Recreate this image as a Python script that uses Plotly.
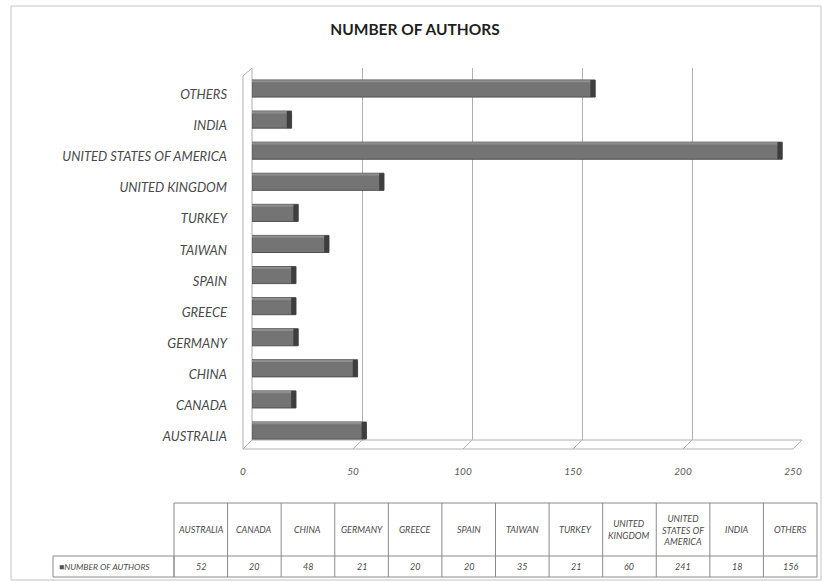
import plotly.graph_objects as go

# ---------------- data ----------------
categories = ["AUSTRALIA", "CANADA", "CHINA", "GERMANY", "GREECE", "SPAIN",
              "TAIWAN", "TURKEY", "UNITED KINGDOM", "UNITED STATES OF AMERICA",
              "INDIA", "OTHERS"]
values = [52, 20, 48, 21, 20, 20, 35, 21, 60, 241, 18, 156]
table_headers = ["AUSTRALIA", "CANADA", "CHINA", "GERMANY", "GREECE", "SPAIN",
                 "TAIWAN", "TURKEY", "UNITED<br>KINGDOM",
                 "UNITED<br>STATES OF<br>AMERICA", "INDIA", "OTHERS"]
x_ticks = [0, 50, 100, 150, 200, 250]
series_name = "NUMBER OF AUTHORS"
title_text = "NUMBER OF AUTHORS"

# ---------------- geometry helpers (pixels -> paper) ----------------
W, H = 823, 582
def X(p):
    return p / W
def Y(p):
    return 1 - p / H

FONT = "Lato"
TXT = "#4a4a4a"
GRID = "#b0b0b0"
n = len(categories)

fig = go.Figure()
# front face of bars
fig.add_trace(go.Bar(
    y=categories, x=values, orientation="h", width=0.55,
    marker=dict(color="#747474", line=dict(color="#525252", width=1)),
    name=series_name, hoverinfo="x+y"))
# lighter top face
fig.add_trace(go.Bar(
    y=categories, x=values, orientation="h", width=0.07, offset=0.2,
    marker=dict(color="#8e8e8e", line=dict(width=0)), hoverinfo="skip"))
# dark end face (drawn inward from each bar's value)
fig.add_trace(go.Bar(
    y=categories, x=[-2.2] * n, base=values, orientation="h", width=0.55,
    marker=dict(color="#3e3e3e", line=dict(width=0)), hoverinfo="skip"))

shapes = []
# outer chart border
shapes.append(dict(type="rect", xref="paper", yref="paper",
                   x0=X(11), x1=X(821), y0=Y(580), y1=Y(6),
                   line=dict(color="#c4c4c4", width=1), layer="below"))
# left wall
shapes.append(dict(type="path", xref="paper", yref="paper",
                   path=f"M {X(243)},{Y(449)} L {X(243)},{Y(76)} L {X(252)},{Y(68)} L {X(252)},{Y(440)} Z",
                   line=dict(color=GRID, width=1), fillcolor="white", layer="below"))
# floor
shapes.append(dict(type="path", xref="paper", yref="paper",
                   path=f"M {X(252)},{Y(440)} L {X(802)},{Y(440)} L {X(793)},{Y(449)} L {X(243)},{Y(449)} Z",
                   line=dict(color=GRID, width=1), fillcolor="white", layer="below"))
# floor diagonal ticks at each gridline
for t in x_ticks:
    shapes.append(dict(type="line", xref="x", yref="paper", xsizemode="pixel",
                       xanchor=t, x0=0, x1=-9, y0=Y(440), y1=Y(449),
                       line=dict(color=GRID, width=1), layer="below"))

# data table
tx0, tx1 = 174, 817
col_w = (tx1 - tx0) / n
ty0, ty_mid, ty1 = 503, 556, 577
lg_x0 = 53
TL = "#8a8a8a"
shapes.append(dict(type="rect", xref="paper", yref="paper",
                   x0=X(tx0), x1=X(tx1), y0=Y(ty1), y1=Y(ty0),
                   line=dict(color=TL, width=1)))
shapes.append(dict(type="rect", xref="paper", yref="paper",
                   x0=X(lg_x0), x1=X(tx0), y0=Y(ty1), y1=Y(ty_mid),
                   line=dict(color=TL, width=1)))
shapes.append(dict(type="line", xref="paper", yref="paper",
                   x0=X(tx0), x1=X(tx1), y0=Y(ty_mid), y1=Y(ty_mid),
                   line=dict(color=TL, width=1)))
for i in range(1, n):
    xx = tx0 + i * col_w
    shapes.append(dict(type="line", xref="paper", yref="paper",
                       x0=X(xx), x1=X(xx), y0=Y(ty1), y1=Y(ty0),
                       line=dict(color=TL, width=1)))

annotations = []
for i, (h, v) in enumerate(zip(table_headers, values)):
    cx = tx0 + (i + 0.5) * col_w
    annotations.append(dict(x=X(cx), y=Y((ty0 + ty_mid) / 2), xref="paper", yref="paper",
                            text=h, showarrow=False, xanchor="center", yanchor="middle",
                            font=dict(family=FONT, size=9, color=TXT, style="italic")))
    annotations.append(dict(x=X(cx), y=Y((ty_mid + ty1) / 2), xref="paper", yref="paper",
                            text=str(v), showarrow=False, xanchor="center", yanchor="middle",
                            font=dict(family=FONT, size=9, color=TXT, style="italic")))
annotations.append(dict(x=X(lg_x0 + 4), y=Y((ty_mid + ty1) / 2), xref="paper", yref="paper",
                        text="<span style='color:#555555'>■</span>" + series_name,
                        showarrow=False, xanchor="left", yanchor="middle",
                        font=dict(family=FONT, size=8.5, color=TXT, style="italic")))

fig.update_layout(
    width=W, height=H, autosize=False,
    margin=dict(l=0, r=0, t=0, b=0, pad=0),
    paper_bgcolor="white", plot_bgcolor="rgba(0,0,0,0)",
    barmode="overlay", showlegend=False,
    title=dict(text=title_text, x=X(415), xanchor="center", y=Y(30), yanchor="middle",
               automargin=False,
               font=dict(family=FONT, size=15.5, color="#1f1f1f", weight="bold")),
    xaxis=dict(domain=[X(252), X(802)], range=[0, 250], tickvals=x_ticks,
               automargin=False,
               showgrid=True, gridcolor=GRID, gridwidth=1, zeroline=False,
               showline=False, ticks="",
               tickfont=dict(family=FONT, size=10, color="#5a5a5a", style="italic"),
               ticklabelstandoff=24, ticklabelshift=-9),
    yaxis=dict(domain=[Y(440), Y(68)], categoryorder="array", categoryarray=categories,
               automargin=False,
               range=[-0.305, 11.66], showgrid=False, zeroline=False, showline=False,
               ticks="",
               tickfont=dict(family=FONT, size=13, color=TXT, style="italic"),
               ticklabelstandoff=24, ticklabelshift=6),
    shapes=shapes, annotations=annotations,
)

fig.write_html("out.html")
